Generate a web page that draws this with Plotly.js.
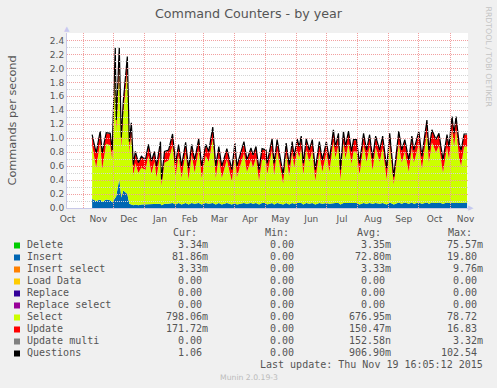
<!DOCTYPE html>
<html><head><meta charset="utf-8">
<script src="https://cdn.plot.ly/plotly-3.0.1.min.js"></script>
<style>html,body{margin:0;padding:0;background:#f0f0f0;}#chart{width:497px;height:388px;}</style>
</head><body><div id="chart"></div>
<script>
// ---- data ----
const dates = ['2014-11-10','2014-11-14','2014-11-18','2014-11-20','2014-11-24','2014-11-28','2014-11-30','2014-12-03','2014-12-04','2014-12-07',
'2014-12-09','2014-12-11','2014-12-15','2014-12-17','2014-12-19','2014-12-21','2014-12-23','2014-12-26','2014-12-29','2015-01-02',
'2015-01-05','2015-01-08','2015-01-11','2015-01-13','2015-01-17','2015-01-18','2015-01-21','2015-01-25','2015-01-29','2015-02-01',
'2015-02-04','2015-02-07','2015-02-11','2015-02-14','2015-02-17','2015-02-20','2015-02-24','2015-02-27','2015-03-03','2015-03-06',
'2015-03-10','2015-03-13','2015-03-16','2015-03-19','2015-03-24','2015-03-29','2015-04-01','2015-04-03','2015-04-10','2015-04-13',
'2015-04-17','2015-04-19','2015-04-22','2015-04-25','2015-04-28','2015-05-02','2015-05-03','2015-05-08','2015-05-10','2015-05-13',
'2015-05-19','2015-05-22','2015-05-25','2015-05-28','2015-05-30','2015-06-02','2015-06-04','2015-06-06','2015-06-08','2015-06-11',
'2015-06-14','2015-06-17','2015-06-20','2015-06-24','2015-06-27','2015-07-01','2015-07-04','2015-07-08','2015-07-10','2015-07-13',
'2015-07-15','2015-07-18','2015-07-20','2015-07-23','2015-07-26','2015-07-28','2015-07-31','2015-08-03','2015-08-07','2015-08-10',
'2015-08-13','2015-08-16','2015-08-19','2015-08-23','2015-08-26','2015-08-30','2015-09-02','2015-09-06','2015-09-11','2015-09-14',
'2015-09-17','2015-09-21','2015-09-24','2015-09-26','2015-10-01','2015-10-04','2015-10-09','2015-10-11','2015-10-14','2015-10-18',
'2015-10-21','2015-10-25','2015-10-29','2015-10-31','2015-11-03','2015-11-05','2015-11-07','2015-11-10','2015-11-12','2015-11-15','2015-11-18'];

const insertVals = [0.13,0.10,0.12,0.09,0.12,0.11,0.08,0.16,0.17,0.42,
0.15,0.25,0.20,0.06,0.05,0.04,0.05,0.04,0.05,0.05,
0.06,0.05,0.06,0.05,0.06,0.04,0.06,0.06,0.07,0.05,
0.07,0.05,0.07,0.05,0.07,0.06,0.07,0.05,0.07,0.06,
0.07,0.05,0.07,0.05,0.07,0.05,0.07,0.05,0.07,0.06,
0.07,0.06,0.07,0.05,0.07,0.07,0.05,0.07,0.05,0.07,
0.05,0.07,0.05,0.07,0.06,0.07,0.07,0.07,0.05,0.07,
0.06,0.07,0.05,0.07,0.06,0.07,0.06,0.07,0.07,0.07,
0.05,0.07,0.07,0.07,0.06,0.07,0.07,0.05,0.07,0.06,
0.07,0.06,0.07,0.06,0.07,0.05,0.08,0.05,0.08,0.06,
0.08,0.06,0.08,0.06,0.08,0.06,0.08,0.06,0.08,0.07,
0.08,0.06,0.08,0.07,0.08,0.07,0.08,0.07,0.07,0.08,0.08];

const selectVals = [0.77,0.48,0.81,0.47,0.80,0.79,0.62,1.93,0.93,1.62,
0.70,1.12,1.76,0.74,1.01,0.42,0.59,0.46,0.53,0.49,
0.69,0.44,0.60,0.39,0.72,0.28,0.59,0.62,0.82,0.40,
0.68,0.38,0.71,0.36,0.69,0.45,0.76,0.38,0.68,0.60,
0.91,0.38,0.65,0.38,0.62,0.33,0.70,0.39,0.71,0.46,
0.62,0.52,0.65,0.34,0.62,0.61,0.43,0.76,0.42,0.75,
0.30,0.70,0.41,0.72,0.52,0.75,0.65,0.79,0.43,0.76,
0.60,0.75,0.34,0.72,0.46,0.72,0.46,0.88,0.65,0.83,
0.35,0.86,0.64,0.85,0.57,0.74,0.74,0.43,0.83,0.60,
0.81,0.48,0.80,0.60,0.79,0.36,0.82,0.29,0.84,0.59,
0.73,0.46,0.78,0.59,0.84,0.50,0.99,0.59,0.86,0.73,
0.81,0.45,0.79,0.63,1.04,0.81,1.04,0.65,0.53,0.80,0.80];

const updateVals = [0.14,0.20,0.16,0.22,0.15,0.16,0.12,0.20,0.15,0.25,
0.15,0.15,0.20,0.14,0.15,0.15,0.16,0.14,0.15,0.14,
0.15,0.17,0.14,0.15,0.16,0.08,0.15,0.14,0.16,0.18,
0.15,0.16,0.15,0.15,0.14,0.17,0.15,0.16,0.15,0.14,
0.17,0.16,0.15,0.16,0.15,0.16,0.15,0.15,0.16,0.16,
0.16,0.17,0.15,0.15,0.15,0.14,0.15,0.15,0.16,0.15,
0.12,0.15,0.15,0.15,0.15,0.16,0.15,0.16,0.15,0.15,
0.16,0.15,0.15,0.15,0.16,0.15,0.16,0.16,0.15,0.16,
0.14,0.16,0.16,0.17,0.17,0.16,0.16,0.15,0.16,0.16,
0.16,0.16,0.15,0.16,0.16,0.15,0.16,0.10,0.17,0.17,
0.16,0.16,0.16,0.17,0.17,0.17,0.18,0.17,0.17,0.17,
0.17,0.17,0.17,0.17,0.18,0.18,0.18,0.20,0.22,0.17,0.17];

const questionsVals = [1.05,0.79,1.10,0.79,1.08,1.07,0.83,2.30,1.26,2.30,
1.01,1.53,2.17,0.95,1.22,0.62,0.81,0.65,0.74,0.69,
0.91,0.67,0.81,0.60,0.95,0.41,0.81,0.83,1.06,0.64,
0.91,0.60,0.94,0.57,0.91,0.69,0.99,0.60,0.91,0.81,
1.16,0.60,0.88,0.60,0.85,0.55,0.93,0.60,0.95,0.69,
0.86,0.76,0.88,0.55,0.85,0.83,0.64,0.99,0.64,0.98,
0.48,0.93,0.62,0.95,0.74,0.99,0.88,1.03,0.64,0.99,
0.83,0.98,0.55,0.95,0.69,0.95,0.69,1.12,0.88,1.07,
0.55,1.10,0.88,1.10,0.81,0.98,0.98,0.64,1.07,0.83,
1.05,0.71,1.03,0.83,1.03,0.57,1.07,0.45,1.10,0.83,
0.98,0.69,1.03,0.83,1.10,0.74,1.26,0.83,1.12,0.98,
1.07,0.69,1.05,0.88,1.31,1.07,1.31,0.93,0.83,1.06,1.06];

// ---- legend table ----
const seriesNames  = ['Delete','Insert','Insert select','Load Data','Replace','Replace select','Select','Update','Update multi','Questions'];
const seriesColors = ['#00CC00','#0066B3','#FF8000','#FFCC00','#330099','#990099','#CCFF00','#FF0000','#808080','#000000'];
const curVals = ['3.34m','81.86m','3.33m','0.00','0.00','0.00','798.06m','171.72m','0.00','1.06'];
const minVals = ['0.00','0.00','0.00','0.00','0.00','0.00','0.00','0.00','0.00','0.00'];
const avgVals = ['3.35m','72.80m','3.33m','0.00','0.00','0.00','676.95m','150.47m','152.58n','906.90m'];
const maxVals = ['75.57m','19.80','9.76m','0.00','0.00','0.00','78.72','16.83','3.32m','102.54'];
const columnHeads = ['Cur:','Min:','Avg:','Max:'];
const lastUpdate = 'Last update: Thu Nov 19 16:05:12 2015';

// ---- geometry ----
const W=497, H=388;
const M={l:67, r:29, t:33, b:180};
const PW=W-M.l-M.r, PH=H-M.t-M.b;
const fx = px => (px-M.l)/PW;
const fy = py => (H-M.b-py)/PH;

const xRange = ['2014-10-16','2015-11-18 21:00'];
const yRange = [0, 2.507];

const areaTrace = (y, name, color) => ({
  x: dates, y: y, name: name, type: 'scatter', mode: 'lines',
  stackgroup: 'stack', line: {width: 0}, fillcolor: color, hoverinfo: 'skip'
});

const traces = [
  areaTrace(insertVals, 'Insert', seriesColors[1]),
  areaTrace(selectVals, 'Select', seriesColors[6]),
  areaTrace(updateVals, 'Update', seriesColors[7]),
  {x: dates, y: questionsVals, name: 'Questions', type: 'scatter', mode: 'lines',
   line: {color: '#000000', width: 1.2}, hoverinfo: 'skip'},
  {x: [], y: [], xaxis: 'x2', yaxis: 'y2', type: 'scatter', mode: 'lines', hoverinfo: 'skip'}
];

const txtColor = '#555555';
const mono = 'DejaVu Sans Mono';
const annotations = [];
const shapes = [
  {type:'rect', xref:'paper', yref:'paper', x0:0, x1:1, y0:0, y1:1, fillcolor:'#ffffff', line:{width:0}, layer:'below'}
];

// title elements
annotations.push({text:'Commands per second', xref:'paper', yref:'paper', x:fx(12), y:fy(120.5),
  xanchor:'center', yanchor:'middle', textangle:-90, showarrow:false, font:{family:'DejaVu Sans', size:11.3, color:txtColor}});
annotations.push({text:'RRDTOOL / TOBI OETIKER', xref:'paper', yref:'paper', x:fx(488), y:fy(56.5),
  xanchor:'center', yanchor:'middle', textangle:90, showarrow:false, font:{family:'DejaVu Sans', size:7.8, color:'#c4c4c4'}});
annotations.push({text:'▲', xref:'paper', yref:'paper', x:fx(67), y:fy(29.5), xanchor:'center', yanchor:'middle',
  showarrow:false, borderpad:0, font:{family:'DejaVu Sans', size:7, color:'#c8c8f0'}});
annotations.push({text:'▶', xref:'paper', yref:'paper', x:fx(471), y:fy(208), xanchor:'center', yanchor:'middle',
  showarrow:false, borderpad:0, font:{family:'DejaVu Sans', size:7, color:'#c8c8f0'}});

// legend table
const headX = [172, 264.3, 355.7, 446.7];
columnHeads.forEach((h,i) => annotations.push({text:h, xref:'paper', yref:'paper', x:fx(headX[i]), y:fy(232.5),
  xanchor:'left', yanchor:'middle', showarrow:false, borderpad:0, font:{family:mono, size:10, color:txtColor}}));

const colEdge = [209.3, 301.1, 391.6, 483.9];
const cols = [curVals, minVals, avgVals, maxVals];
const hasUnit = s => /[a-zA-Z]$/.test(s);
seriesNames.forEach((name,i) => {
  const cy = 244.5 + 12*i;
  shapes.push({type:'rect', xref:'paper', yref:'paper', x0:fx(14), x1:fx(20), y0:fy(cy+4), y1:fy(cy-2),
    fillcolor:seriesColors[i], line:{width:0}, layer:'above'});
  annotations.push({text:name, xref:'paper', yref:'paper', x:fx(25.7), y:fy(cy), xanchor:'left', yanchor:'middle',
    showarrow:false, borderpad:0, font:{family:mono, size:10, color:txtColor}});
  cols.forEach((col,j) => {
    const v = col[i];
    annotations.push({text:v, xref:'paper', yref:'paper', x:fx(colEdge[j] - (hasUnit(v)?0:6.02)), y:fy(cy),
      xanchor:'right', yanchor:'middle', showarrow:false, borderpad:0, font:{family:mono, size:10, color:txtColor}});
  });
});
annotations.push({text:lastUpdate, xref:'paper', yref:'paper', x:fx(484), y:fy(364.5), xanchor:'right', yanchor:'middle',
  showarrow:false, borderpad:0, font:{family:mono, size:10, color:txtColor}});
annotations.push({text:'Munin 2.0.19-3', xref:'paper', yref:'paper', x:fx(248.8), y:fy(377), xanchor:'center', yanchor:'middle',
  showarrow:false, borderpad:0, font:{family:'DejaVu Sans', size:7.7, color:'#bbbbbb'}});

const gridPink = '#f2a0a0';
const dotDash = '1px,1px';
const layout = {
  width: W, height: H, margin: {l:M.l, r:M.r, t:M.t, b:M.b, pad:0},
  paper_bgcolor: '#f0f0f0', plot_bgcolor: 'rgba(0,0,0,0)', showlegend: false,
  font: {family: 'DejaVu Sans', color: txtColor, size: 9},
  title: {text: 'Command Counters - by year', xref: 'container', yref: 'container', x: 0.5, y: 1 - 13.5/H,
          xanchor: 'center', yanchor: 'middle', font: {family: 'DejaVu Sans', size: 12.7, color: txtColor}},
  xaxis: {type: 'date', range: xRange, tick0: '2014-11-01', dtick: 'M1', tickformat: '%b', ticklabelmode: 'period',
          ticklabelstandoff: 2,
          showgrid: false, zeroline: false, showline: true, linecolor: '#c8c8e8', ticks: '',
          tickfont: {family: 'DejaVu Sans', size: 9, color: txtColor}, fixedrange: true},
  yaxis: {range: yRange, tick0: 0, dtick: 0.2, tickformat: '.1f', showgrid: false, zeroline: false,
          showline: true, linecolor: '#c8c8e8', ticks: '',
          tickfont: {family: 'DejaVu Sans', size: 9, color: txtColor}, fixedrange: true},
  xaxis2: {type: 'date', anchor: 'y2', domain: [0,1], range: xRange, tick0: '2014-11-01', dtick: 'M1',
           showgrid: true, gridcolor: gridPink, griddash: dotDash, gridwidth: 1, showticklabels: false, ticks: '',
           zeroline: false, showline: false, fixedrange: true},
  yaxis2: {anchor: 'x2', domain: [0,1], range: yRange, tick0: 0, dtick: 0.2, showgrid: true, gridcolor: gridPink,
           griddash: dotDash, gridwidth: 1, showticklabels: false, ticks: '', zeroline: false, showline: false,
           minor: {tick0: 0, dtick: 0.1, showgrid: true, gridcolor: '#d4d4d4', griddash: dotDash, gridwidth: 1},
           fixedrange: true},
  annotations: annotations,
  shapes: shapes
};

Plotly.newPlot('chart', traces, layout, {staticPlot: true, displayModeBar: false});
</script>
</body></html>
